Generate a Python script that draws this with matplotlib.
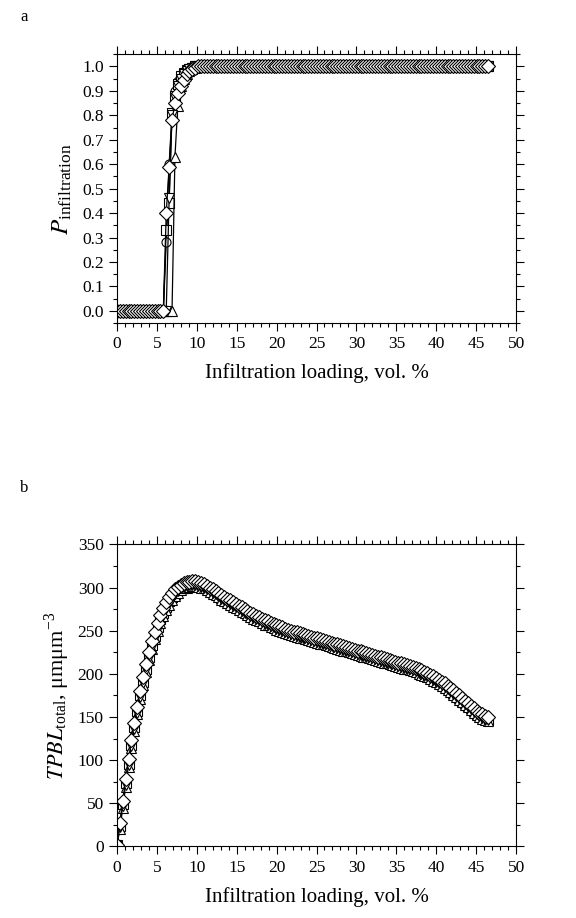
import matplotlib
matplotlib.use("Agg")
import matplotlib.pyplot as plt
from matplotlib.ticker import MultipleLocator
import numpy as np

plt.rcParams['font.family'] = ['Liberation Serif', 'DejaVu Serif']
plt.rcParams['mathtext.fontset'] = 'stix'

# infiltration loading, vol. % (same grid for every curve)
loading = np.linspace(0, 46.5, 129)

# (a) infiltration probability
p_circle = [0.0]*17 + [0.28, 0.60, 0.81, 0.90, 0.94, 0.96, 0.975, 0.985, 0.99, 0.995] + [1.0]*102
p_square = [0.0]*17 + [0.33, 0.44, 0.81, 0.88, 0.93, 0.96, 0.975, 0.985, 0.99, 0.995] + [1.0]*102
p_tri_up = [0.0]*20 + [0.63, 0.84, 0.92, 0.95, 0.97, 0.98, 0.99, 0.995] + [1.0]*101
p_tri_down = [0.0]*18 + [0.46, 0.80, 0.87, 0.92, 0.95, 0.97, 0.98, 0.99, 0.995] + [1.0]*102
p_diamond = [0.0]*17 + [0.40, 0.59, 0.78, 0.85, 0.89, 0.92, 0.945, 0.967, 0.98, 0.99, 0.995] + [1.0]*101

# (b) total TPB length, um/um^3
tpbl_circle = [2, 25, 50, 75, 98, 120, 140, 159, 177, 193,
               208, 222, 235, 246, 256, 265, 273, 280, 286, 291,
               295, 298, 301, 303, 304, 305, 305, 305, 304, 303,
               302, 300, 298, 296, 294, 292, 289, 287, 285, 283,
               281, 279, 277, 275, 273, 271, 269, 267, 265, 264,
               262, 260, 259, 257, 256, 254, 253, 252, 250, 249,
               248, 247, 246, 245, 244, 243, 242, 241, 240, 239,
               238, 237, 236, 235, 234, 233, 232, 231, 230, 229,
               228, 227, 226, 225, 224, 223, 222, 221, 220, 219,
               218, 217, 216, 215, 214, 213, 212, 211, 210, 209,
               208, 207, 206, 205, 203, 202, 200, 199, 197, 195,
               193, 191, 189, 187, 184, 182, 179, 176, 173, 170,
               167, 164, 161, 158, 155, 153, 151, 149, 148]
tpbl_square = [2, 24, 49, 73, 96, 118, 138, 157, 175, 191,
               206, 220, 233, 244, 254, 263, 271, 278, 284, 289,
               293, 297, 300, 302, 303, 304, 304, 304, 303, 302,
               301, 299, 297, 295, 293, 291, 288, 286, 284, 282,
               280, 278, 276, 274, 272, 270, 268, 266, 264, 263,
               261, 259, 258, 256, 255, 253, 252, 251, 249, 248,
               247, 246, 245, 244, 243, 242, 241, 240, 239, 238,
               237, 236, 235, 234, 233, 232, 231, 230, 229, 228,
               227, 226, 225, 224, 223, 222, 221, 220, 219, 218,
               217, 216, 215, 214, 213, 212, 211, 210, 209, 208,
               207, 206, 205, 204, 202, 201, 199, 198, 196, 194,
               192, 190, 188, 186, 183, 181, 178, 175, 172, 169,
               166, 163, 160, 157, 154, 152, 150, 148, 147]
tpbl_tri_up = [1, 20, 45, 69, 92, 114, 134, 153, 171, 187,
               202, 216, 229, 240, 250, 259, 267, 274, 280, 285,
               290, 294, 297, 299, 300, 301, 302, 302, 301, 300,
               299, 297, 295, 293, 291, 289, 286, 284, 282, 280,
               278, 276, 274, 272, 270, 268, 266, 264, 262, 261,
               259, 257, 256, 254, 253, 251, 250, 249, 247, 246,
               245, 244, 243, 242, 241, 240, 239, 238, 237, 236,
               235, 234, 233, 232, 231, 230, 229, 228, 227, 226,
               225, 224, 223, 222, 221, 220, 219, 218, 217, 216,
               215, 214, 213, 212, 211, 210, 209, 208, 207, 206,
               205, 204, 203, 202, 200, 199, 197, 196, 194, 192,
               190, 188, 186, 184, 181, 179, 176, 173, 170, 167,
               164, 161, 158, 155, 152, 150, 148, 146, 145]
tpbl_tri_down = [1, 22, 47, 71, 94, 116, 136, 155, 173, 189,
                 204, 218, 231, 242, 252, 261, 269, 276, 282, 287,
                 292, 296, 299, 301, 302, 303, 303, 303, 302, 301,
                 300, 298, 296, 294, 292, 290, 287, 285, 283, 281,
                 279, 277, 275, 273, 271, 269, 267, 265, 263, 262,
                 260, 258, 257, 255, 254, 252, 251, 250, 248, 247,
                 246, 245, 244, 243, 242, 241, 240, 239, 238, 237,
                 236, 235, 234, 233, 232, 231, 230, 229, 228, 227,
                 226, 225, 224, 223, 222, 221, 220, 219, 218, 217,
                 216, 215, 214, 213, 212, 211, 210, 209, 208, 207,
                 206, 205, 204, 203, 201, 200, 198, 197, 195, 193,
                 191, 189, 187, 185, 182, 180, 177, 174, 171, 168,
                 165, 162, 159, 156, 153, 151, 149, 147, 146]
tpbl_diamond = [2, 27, 53, 78, 101, 123, 143, 162, 180, 196,
                211, 225, 238, 249, 259, 268, 276, 283, 289, 294,
                298, 301, 303, 305, 306, 306, 307, 307, 306, 305,
                304, 302, 300, 298, 296, 294, 291, 289, 287, 285,
                283, 281, 279, 277, 275, 273, 271, 269, 267, 266,
                264, 262, 261, 259, 258, 256, 255, 254, 252, 251,
                250, 249, 248, 247, 246, 245, 244, 243, 242, 241,
                240, 239, 238, 237, 236, 235, 234, 233, 232, 231,
                230, 229, 228, 227, 226, 225, 224, 223, 222, 221,
                220, 219, 218, 217, 216, 215, 214, 213, 212, 211,
                210, 209, 208, 207, 205, 204, 202, 201, 199, 197,
                195, 193, 191, 189, 186, 184, 181, 178, 175, 172,
                169, 166, 163, 160, 157, 155, 153, 151, 150]

markers = ['o', 's', '^', 'v', 'D']
msizes = [6.5, 6.5, 7, 7, 7.5]

fig = plt.figure(figsize=(5.76, 9.18), dpi=100)
ax1 = fig.add_axes([0.203, 0.648, 0.693, 0.293])
ax2 = fig.add_axes([0.203, 0.078, 0.693, 0.329])


def plot_set(ax, series):
    for y, m, s in zip(series, markers, msizes):
        ax.plot(loading, y, color='black', lw=0.9, marker=m, ms=s,
                mfc='white', mec='black', mew=0.8)


def style_axis(ax):
    ax.set_xlim(0, 50)
    ax.xaxis.set_major_locator(MultipleLocator(5))
    ax.xaxis.set_minor_locator(MultipleLocator(1))
    ax.tick_params(which='both', direction='out', top=True, right=True,
                   labelsize=12.5, width=0.8)
    ax.tick_params(which='major', length=6)
    ax.tick_params(which='minor', length=3)
    for sp in ax.spines.values():
        sp.set_linewidth(0.8)
    ax.set_xlabel('Infiltration loading, vol. %', fontsize=15, labelpad=8)


plot_set(ax1, [p_circle, p_square, p_tri_up, p_tri_down, p_diamond])
style_axis(ax1)
ax1.set_ylim(-0.05, 1.05)
ax1.yaxis.set_minor_locator(MultipleLocator(0.05))
ax1.set_yticks(np.arange(0, 1.01, 0.1))
ax1.set_yticklabels(['%.1f' % v for v in np.arange(0, 1.01, 0.1)])
ax1.set_ylabel(r'$P_{\mathregular{infiltration}}$', fontsize=18, labelpad=6)

plot_set(ax2, [tpbl_circle, tpbl_square, tpbl_tri_up, tpbl_tri_down, tpbl_diamond])
style_axis(ax2)
ax2.set_ylim(0, 350)
ax2.yaxis.set_major_locator(MultipleLocator(50))
ax2.yaxis.set_minor_locator(MultipleLocator(25))
ax2.set_ylabel(r'$TPBL_{\mathregular{total}}$, μmμm$^{\mathregular{-3}}$', fontsize=16, labelpad=4)

fig.text(0.035, 0.982, 'a', fontsize=12, va='center')
fig.text(0.035, 0.468, 'b', fontsize=12, va='center')

fig.savefig('out.png', dpi=100)
